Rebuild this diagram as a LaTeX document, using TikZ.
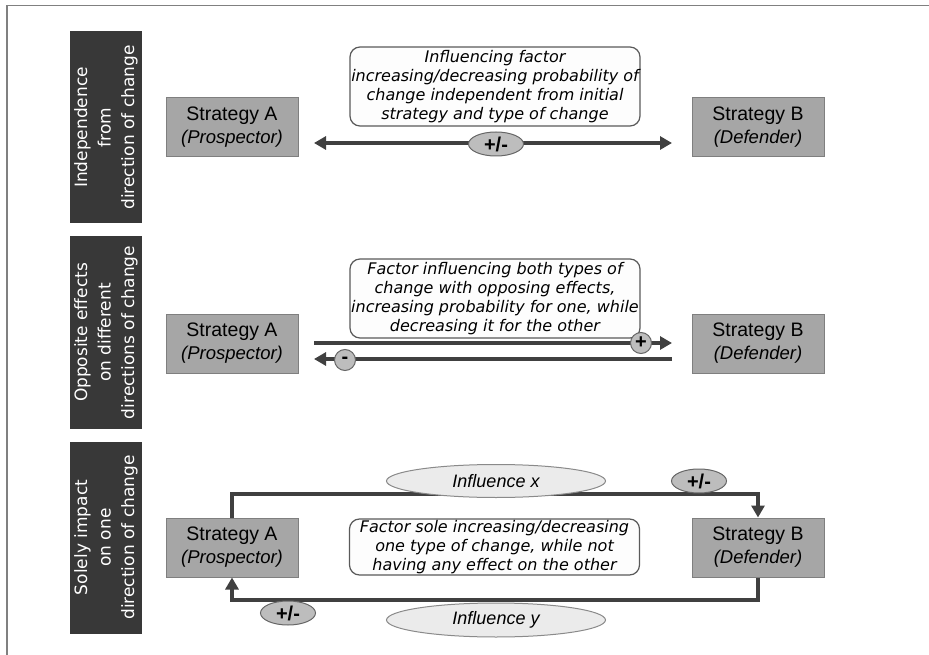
\documentclass[tikz,border=0pt]{standalone}
\usepackage{fontspec}
\setmainfont{Liberation Sans}
\newfontfamily\dv{DejaVu Sans}
\usetikzlibrary{arrows.meta,shapes.geometric}
\definecolor{arrowc}{HTML}{404040}
\definecolor{stratfill}{HTML}{A6A6A6}
\definecolor{stratborder}{HTML}{7F7F7F}
\definecolor{darkc}{HTML}{383838}
\definecolor{tbfill}{HTML}{FDFDFD}
\definecolor{tbborder}{HTML}{5A5A5A}
\definecolor{pmfill}{HTML}{BDBDBD}
\definecolor{pmborder}{HTML}{666666}
\definecolor{infill}{HTML}{EBEBEB}
\definecolor{inborder}{HTML}{8A8A8A}
\definecolor{framec}{HTML}{808080}
\begin{document}
\begin{tikzpicture}[x=1pt,y=-1pt,
  strat/.style={draw=stratborder, fill=stratfill, line width=1pt, minimum width=132pt,
    minimum height=59pt, inner sep=0pt, align=center, font=\fontsize{19.5}{23}\selectfont},
  sidebox/.style={fill=darkc, text=white, minimum width=192pt, minimum height=72pt,
    inner sep=0pt, rotate=90, align=center, font=\dv\fontsize{17}{23.5}\selectfont},
  textbox/.style={draw=tbborder, fill=tbfill, rounded corners=10pt, line width=1.2pt,
    inner sep=0pt, minimum width=290pt, align=center, font=\dv\itshape\fontsize{16}{19.2}\selectfont},
  pm/.style={ellipse, draw=pmborder, fill=pmfill, line width=1pt, inner sep=0pt,
    minimum width=55pt, minimum height=24pt, font=\bfseries\fontsize{20}{20}\selectfont},
  infl/.style={ellipse, draw=inborder, fill=infill, line width=1pt, inner sep=0pt,
    minimum width=219pt, minimum height=33pt, font=\itshape\fontsize{18}{18}\selectfont},
  sign/.style={circle, draw=pmborder, fill=pmfill, line width=1pt, inner sep=0pt,
    minimum size=21pt, font=\bfseries\fontsize{20}{20}\selectfont},
  arr/.style={draw=arrowc, line width=3.6pt, -{Triangle[length=12pt,width=13pt]}},
  darr/.style={draw=arrowc, line width=3.6pt, {Triangle[length=12pt,width=13pt]}-{Triangle[length=12pt,width=13pt]}}
]
\useasboundingbox (0,0) rectangle (929,655);
\fill[white] (0,0) rectangle (929,655);
\draw[framec, line width=1.5pt] (7,655) -- (7,5.5) -- (929,5.5);

% side labels
\node[sidebox] (L1) at (106,127.5) {Independence\\from\\direction of change};
\node[sidebox] (L2) at (106,332.5) {Opposite effects\\on different\\directions of change};
\node[sidebox] (L3) at (106,537.5) {Solely impact\\on one\\direction of change};

% row 1
\node[strat] (A1) at (232,127.5) {Strategy A\\{\itshape\fontsize{18.5}{23}\selectfont (Prospector)}};
\node[strat] (B1) at (758,127.5) {Strategy B\\{\itshape\fontsize{18.5}{23}\selectfont (Defender)}};
\node[textbox, minimum height=79pt] (T1) at (495,86.5) {Influencing factor\\increasing/decreasing probability of\\change independent from initial\\strategy and type of change};
\coordinate (r1l) at (314,143);
\coordinate (r1r) at (672,143);
\draw[darr] (r1l) -- (r1r);
\node[pm] (P1) at (496,144) {+/-};

% row 2
\node[strat] (A2) at (232,343.5) {Strategy A\\{\itshape\fontsize{18.5}{23}\selectfont (Prospector)}};
\node[strat] (B2) at (758,343.5) {Strategy B\\{\itshape\fontsize{18.5}{23}\selectfont (Defender)}};
\node[textbox, minimum height=79pt] (T2) at (495,298.5) {Factor influencing both types of\\change with opposing effects,\\increasing probability for one, while\\decreasing it for the other};
\coordinate (r2ul) at (314,343);
\coordinate (r2ur) at (672,343);
\coordinate (r2ll) at (314,359);
\coordinate (r2lr) at (672,359);
\draw[arr] (r2ul) -- (r2ur);
\draw[arr] (r2lr) -- (r2ll);
\node[sign] (S1) at (641,343) {+};
\node[sign] (S2) at (345,360) {-};

% row 3
\node[strat] (A3) at (232,547.5) {Strategy A\\{\itshape\fontsize{18.5}{23}\selectfont (Prospector)}};
\node[strat] (B3) at (758,547.5) {Strategy B\\{\itshape\fontsize{18.5}{23}\selectfont (Defender)}};
\node[textbox, minimum height=56pt] (T3) at (494.5,547) {Factor sole increasing/decreasing\\one type of change, while not\\having any effect on the other};
\coordinate (top3) at (500,494);
\coordinate (bot3) at (500,600);
\draw[arr] (A3.north) |- (top3) -| (B3.north);
\draw[arr] (B3.south) |- (bot3) -| (A3.south);
\node[infl] (IX) at (496,481) {Influence x};
\node[pm] (P2) at (699,481) {+/-};
\node[infl, minimum height=34pt] (IY) at (496,620) {Influence y};
\node[pm] (P3) at (288,613) {+/-};
\end{tikzpicture}
\end{document}
